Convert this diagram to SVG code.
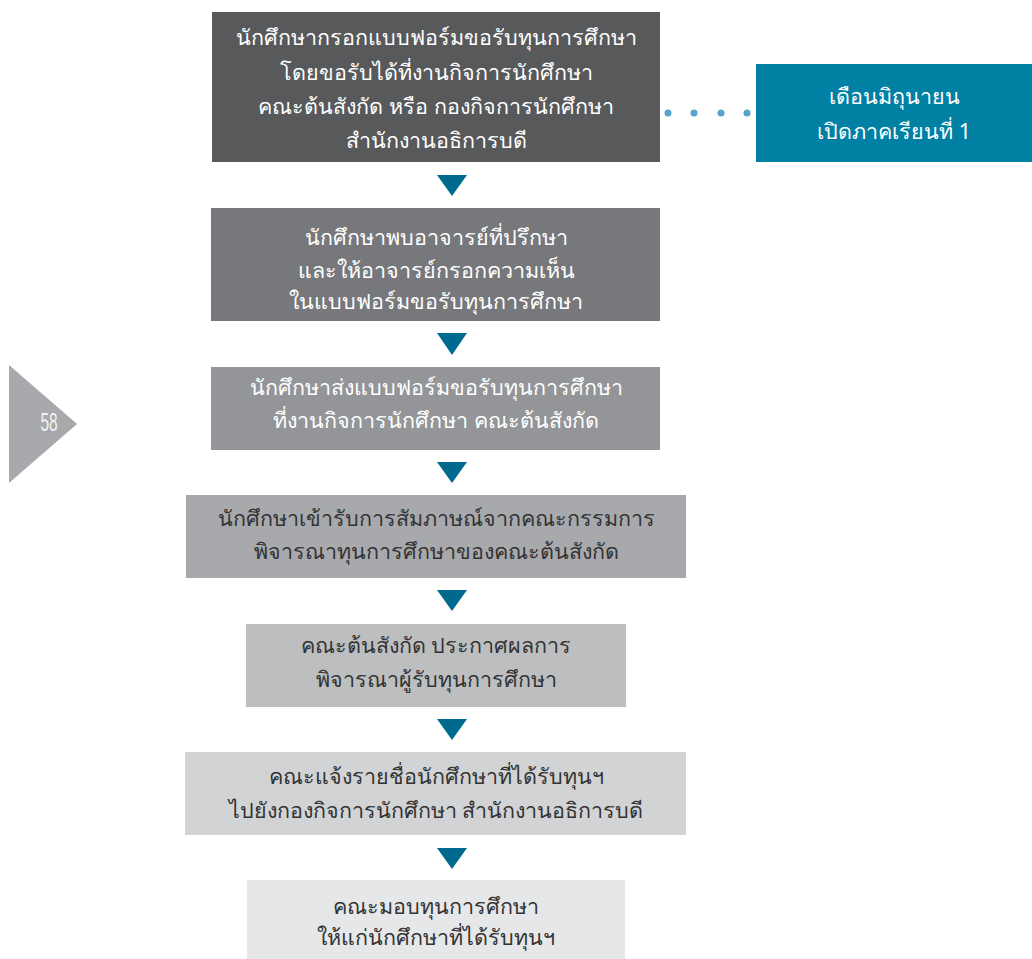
<svg xmlns="http://www.w3.org/2000/svg" width="1032" height="959" viewBox="0 0 1032 959">
<style>
.t{font-family:"Noto Sans","DejaVu Sans",sans-serif;font-size:21.5px;text-anchor:middle}
.w{fill:#ffffff}
.d{fill:#333333}
.arr{fill:#006a8e}
.dot{fill:#54a5c9}
</style>
<rect width="1032" height="959" fill="#ffffff"/>
<g id="page">
<polygon points="9,365 77,424 9,483" fill="#a7a9ac"/>
<text transform="translate(49,431) scale(0.62,1)" font-family="'Liberation Sans','DejaVu Sans',sans-serif" font-size="25" fill="#f1f2f2" text-anchor="middle">58</text>
</g>
<g id="connectors">
<polygon class="arr" points="437,175 467,175 452,196"/>
<polygon class="arr" points="437,333 467,333 452,355"/>
<polygon class="arr" points="437,462 467,462 452,483"/>
<polygon class="arr" points="437,590 467,590 452,611"/>
<polygon class="arr" points="437,719 467,719 452,740"/>
<polygon class="arr" points="437,848 467,848 452,869"/>
<circle class="dot" cx="668" cy="113" r="3.5"/>
<circle class="dot" cx="694" cy="113" r="3.5"/>
<circle class="dot" cx="721" cy="113" r="3.5"/>
<circle class="dot" cx="747" cy="113" r="3.5"/>
</g>
<g id="n1">
<rect x="212" y="12" width="448" height="150" fill="#58595b"/>
<text class="t w" x="436" y="45">นักศึกษากรอกแบบฟอร์มขอรับทุนการศึกษา</text>
<text class="t w" x="436" y="80">โดยขอรับได้ที่งานกิจการนักศึกษา</text>
<text class="t w" x="436" y="114">คณะต้นสังกัด หรือ กองกิจการนักศึกษา</text>
<text class="t w" x="436" y="148">สำนักงานอธิการบดี</text>
</g>
<g id="n0">
<rect x="756" y="64" width="276" height="98" fill="#0080a3"/>
<text class="t w" x="894" y="104">เดือนมิถุนายน</text>
<text class="t w" x="894" y="139">เปิดภาคเรียนที่ 1</text>
</g>
<g id="n2">
<rect x="211" y="208" width="449" height="113" fill="#77787b"/>
<text class="t w" x="436" y="245">นักศึกษาพบอาจารย์ที่ปรึกษา</text>
<text class="t w" x="436" y="278">และให้อาจารย์กรอกความเห็น</text>
<text class="t w" x="436" y="309">ในแบบฟอร์มขอรับทุนการศึกษา</text>
</g>
<g id="n3">
<rect x="211" y="367" width="449" height="83" fill="#939598"/>
<text class="t w" x="436" y="395">นักศึกษาส่งแบบฟอร์มขอรับทุนการศึกษา</text>
<text class="t w" x="436" y="428">ที่งานกิจการนักศึกษา คณะต้นสังกัด</text>
</g>
<g id="n4">
<rect x="186" y="495" width="500" height="83" fill="#a7a9ac"/>
<text class="t d" x="436" y="526">นักศึกษาเข้ารับการสัมภาษณ์จากคณะกรรมการ</text>
<text class="t d" x="436" y="559">พิจารณาทุนการศึกษาของคณะต้นสังกัด</text>
</g>
<g id="n5">
<rect x="246" y="624" width="380" height="83" fill="#bcbec0"/>
<text class="t d" x="436" y="653">คณะต้นสังกัด ประกาศผลการ</text>
<text class="t d" x="436" y="687">พิจารณาผู้รับทุนการศึกษา</text>
</g>
<g id="n6">
<rect x="185" y="752" width="501" height="83" fill="#d1d3d4"/>
<text class="t d" x="436" y="784">คณะแจ้งรายชื่อนักศึกษาที่ได้รับทุนฯ</text>
<text class="t d" x="436" y="818">ไปยังกองกิจการนักศึกษา สำนักงานอธิการบดี</text>
</g>
<g id="n7">
<rect x="247" y="880" width="378" height="79" fill="#e6e7e8"/>
<text class="t d" x="436" y="914">คณะมอบทุนการศึกษา</text>
<text class="t d" x="436" y="945">ให้แก่นักศึกษาที่ได้รับทุนฯ</text>
</g>
</svg>
